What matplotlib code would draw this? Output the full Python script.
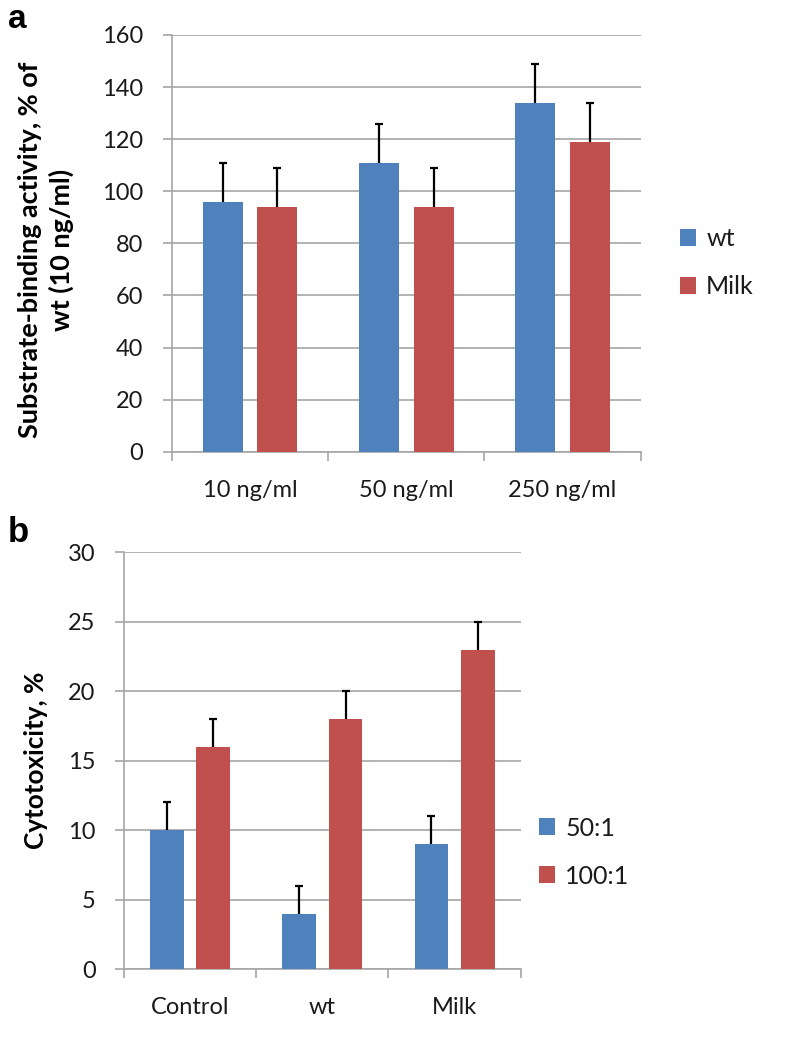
import matplotlib.pyplot as plt
import numpy as np

# panel a data
doses = ['10 ng/ml', '50 ng/ml', '250 ng/ml']
wt_vals = [96, 111, 134]
wt_err = [15, 15, 15]
milk_vals = [94, 94, 119]
milk_err = [15, 15, 15]

# panel b data
groups = ['Control', 'wt', 'Milk']
r50_vals = [10, 4, 9]
r50_err = [2, 2, 2]
r100_vals = [16, 18, 23]
r100_err = [2, 2, 2]

blue = '#4F81BD'
red = '#C0504D'
grid_col = '#A6A6A6'
fs = 17

plt.rcParams['font.family'] = ['Lato', 'DejaVu Sans']

fig = plt.figure(figsize=(7.88, 10.38), dpi=100)


def up_errbar(ax, x, vals, err):
    _, caps, _ = ax.errorbar(x, vals, yerr=[np.zeros(len(vals)), err], fmt='none',
                             ecolor='black', elinewidth=1.6, capsize=3,
                             capthick=1.6, zorder=4)
    # only the upper cap is wanted
    caps[0].set_visible(False)


def draw_panel(ax, cats, v1, e1, v2, e2, ymax, ystep):
    x = np.arange(len(cats))
    off = 0.175
    w = 0.256
    b1 = ax.bar(x - off, v1, w, color=blue, zorder=3)
    b2 = ax.bar(x + off, v2, w, color=red, zorder=3)
    up_errbar(ax, x - off, v1, e1)
    up_errbar(ax, x + off, v2, e2)
    ax.set_xlim(-0.5, len(cats) - 0.5)
    ax.set_ylim(0, ymax)
    ax.set_yticks(np.arange(0, ymax + 1, ystep))
    ax.set_xticks(x)
    ax.set_xticklabels(cats)
    ax.set_xticks(np.arange(-0.5, len(cats), 1.0), minor=True)
    ax.tick_params(axis='x', which='major', length=0, pad=20, labelsize=fs,
                   labelcolor='#1a1a1a')
    ax.tick_params(axis='x', which='minor', length=6.5, width=1.2, color=grid_col)
    ax.tick_params(axis='y', length=6.5, width=1.2, color=grid_col, pad=14,
                   labelsize=fs, labelcolor='#1a1a1a')
    ax.yaxis.grid(True, color=grid_col, linewidth=1.2, zorder=0)
    ax.set_axisbelow(True)
    for s in ['top', 'right']:
        ax.spines[s].set_visible(False)
    for s in ['left', 'bottom']:
        ax.spines[s].set_color(grid_col)
        ax.spines[s].set_linewidth(1.2)
    return b1, b2


ax1 = fig.add_axes([0.2179, 0.5648, 0.5952, 0.4015])
h1, h2 = draw_panel(ax1, doses, wt_vals, wt_err, milk_vals, milk_err, 160, 20)
fig.legend([h1, h2], ['wt', 'Milk'], loc='center left',
           bbox_to_anchor=(680 / 788, 1 - 263 / 1038), frameon=False,
           fontsize=18, handlelength=0.65, handleheight=0.65,
           handletextpad=0.4, labelspacing=1.0, borderpad=0, borderaxespad=0,
           labelcolor='#1a1a1a')

ax2 = fig.add_axes([0.1574, 0.0662, 0.5034, 0.4017])
h3, h4 = draw_panel(ax2, groups, r50_vals, r50_err, r100_vals, r100_err, 30, 5)
fig.legend([h3, h4], ['50:1', '100:1'], loc='center left',
           bbox_to_anchor=(539 / 788, 1 - 852 / 1038), frameon=False,
           fontsize=18, handlelength=0.65, handleheight=0.65,
           handletextpad=0.4, labelspacing=1.0, borderpad=0, borderaxespad=0,
           labelcolor='#1a1a1a')

yl1 = fig.text(46 / 788, 1 - 250 / 1038, 'Substrate-binding activity, % of\nwt (10 ng/ml)',
               rotation=90, ha='center', va='center', fontsize=16, fontweight='bold',
               linespacing=1.3)
yl2 = fig.text(36 / 788, 1 - 760 / 1038, 'Cytotoxicity, %', rotation=90,
               ha='center', va='center', fontsize=16, fontweight='bold')

# scale the bold axis titles to the length they have in the original
fig.canvas.draw()
rend = fig.canvas.get_renderer()
for t, target in [(yl1, 378), (yl2, 178)]:
    h = t.get_window_extent(rend).height
    t.set_fontsize(t.get_fontsize() * target / h)

fig.text(8 / 788, 1 - 4 / 1038, 'a', ha='left', va='top', fontsize=24,
         fontweight='bold', family='Liberation Sans')
fig.text(8 / 788, 1 - 516 / 1038, 'b', ha='left', va='top', fontsize=25,
         fontweight='bold', family='Liberation Sans')

fig.savefig('out.png', dpi=100)
